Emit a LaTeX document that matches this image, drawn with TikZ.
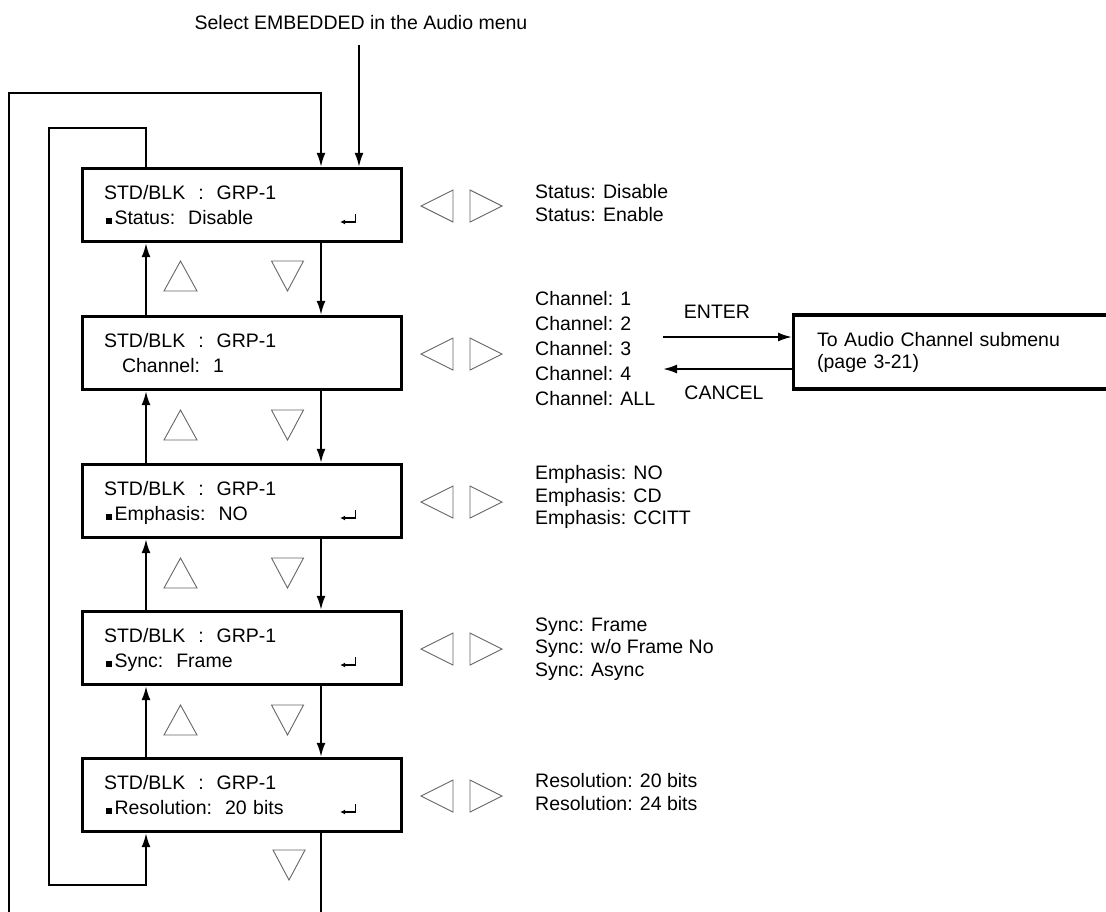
\documentclass[tikz,border=0pt]{standalone}
\usepackage{fontspec}
\setmainfont{Liberation Sans}
\usetikzlibrary{arrows.meta}
\newcommand{\blksq}{\hspace*{2pt}\rule{6pt}{6pt}\hspace{2.5pt}}
\begin{document}
\begin{tikzpicture}[x=1pt,y=-1pt,
  conn/.style={line width=2pt},
  arr/.style={-{Latex[length=14pt,width=9pt]}},
  menubox/.style={draw, fill=white, line width=3.3pt, minimum width=319pt, minimum height=73pt,
    text width=276pt, inner xsep=21.5pt, inner ysep=0pt, align=left,
    font=\fontsize{19.5}{24.5}\selectfont},
  subbox/.style={draw, fill=white, line width=3.3pt, anchor=west, minimum width=400pt, minimum height=74pt,
    text width=353pt, inner xsep=23.4pt, inner ysep=0pt, align=left,
    font=\fontsize{19.5}{22}\selectfont},
  lst/.style={anchor=west, align=left, inner sep=0pt, font=\fontsize{19.5}{22.5}\selectfont},
  lbl/.style={inner sep=0pt, font=\fontsize{19.5}{22}\selectfont},
  entr/.style={line width=1.3pt, -{Latex[length=5pt,width=5pt]}},
  trisym/.style={draw=black!60, line width=0.9pt, line join=miter},
  utri/.pic={\draw[trisym] (-16.5,15) -- (0,-15) -- (16.5,15) -- cycle;},
  dtri/.pic={\draw[trisym] (-16,-15) -- (16,-15) -- (0,15) -- cycle;},
  ltri/.pic={\draw[trisym] (16,-16) -- (-16,0) -- (16,16) -- cycle;},
  rtri/.pic={\draw[trisym] (-16,-16) -- (16,0) -- (-16,16) -- cycle;}
]
\useasboundingbox (0,0) rectangle (1106,911);
\fill[white] (0,0) rectangle (1106,911);
\clip (0,0) rectangle (1106,911);

% menu boxes
\node[menubox] (b1) at (242,205) {STD/BLK\ \ :\ \ GRP-1\\\blksq\smash{Status:\ \ Disable}};
\node[menubox] (b2) at (242,353) {STD/BLK\ \ :\ \ GRP-1\\\hspace*{18pt}\smash{Channel:\ \ 1}};
\node[menubox] (b3) at (242,501) {STD/BLK\ \ :\ \ GRP-1\\\blksq\smash{Emphasis:\ \ NO}};
\node[menubox] (b4) at (242,648) {STD/BLK\ \ :\ \ GRP-1\\\blksq\smash{Sync:\ \ Frame}};
\node[menubox] (b5) at (242,795) {STD/BLK\ \ :\ \ GRP-1\\\blksq\smash{Resolution:\ \ 20 bits}};

% enter symbols
\foreach \b in {b1,b3,b4,b5}
  \draw[entr] ([shift={(-48,9)}]\b.east) -- ++(0,8) -- ++(-15,0);

% option lists
\node[lst] (l1) at (535,203) {Status: Disable\\Status: Enable};
\node[lst, font=\fontsize{19.5}{25}\selectfont] (l2) at (535,349) {Channel: 1\\Channel: 2\\Channel: 3\\Channel: 4\\Channel: ALL};
\node[lst] (l3) at (535,497) {Emphasis: NO\\Emphasis: CD\\Emphasis: CCITT};
\node[lst] (l4) at (535,649) {Sync: Frame\\Sync: w/o Frame No\\Sync: Async};
\node[lst] (l5) at (535,792) {Resolution: 20 bits\\Resolution: 24 bits};

% left/right symbols
\foreach \c in {206,354,502,649,796} {
  \pic at (437,\c) {ltri};
  \pic at (486,\c) {rtri};
}
% up/down symbols
\foreach \g in {276,425,573,720} {
  \pic at (180.5,\g) {utri};
  \pic at (287.5,\g) {dtri};
}
\pic at (289,865) {dtri};

% submenu
\node[subbox] (sub) at (792,352) {To Audio Channel submenu\\(page 3-21)};
\node[lbl] (ent) at (717,312) {ENTER};
\node[lbl] (can) at (724,393) {CANCEL};
\coordinate (ea) at (663,337);
\coordinate (ca) at (663,369);
\draw[conn,arr] (ea) -- (ea -| sub.west);
\draw[conn,arr] (ca -| sub.west) -- (ca);

% entry
\node[lbl] (sel) at (361,23) {Select EMBEDDED in the Audio menu};
\coordinate (inc) at (359,45);
\draw[conn,arr] (inc) -- (inc |- b1.north);

% connectors
\coordinate (L) at (146,0);
\coordinate (R) at (321,0);
\coordinate (ot) at (9,93);
\coordinate (ob) at (9,930);
\coordinate (it) at (49,128);
\coordinate (ib) at (49,885);

\foreach \a/\b in {b1/b2,b2/b3,b3/b4,b4/b5} {
  \draw[conn,arr] (R |- \a.south) -- (R |- \b.north);
  \draw[conn,arr] (L |- \b.north) -- (L |- \a.south);
}
\draw[conn,arr] (R |- b5.south) -- (R |- ob) -- (ob) -- (ot) -- (ot -| R) -- (R |- b1.north);
\draw[conn,arr] (L |- b1.north) -- (L |- it) -- (it) -- (ib) -- (ib -| L) -- (L |- b5.south);
\end{tikzpicture}
\end{document}
